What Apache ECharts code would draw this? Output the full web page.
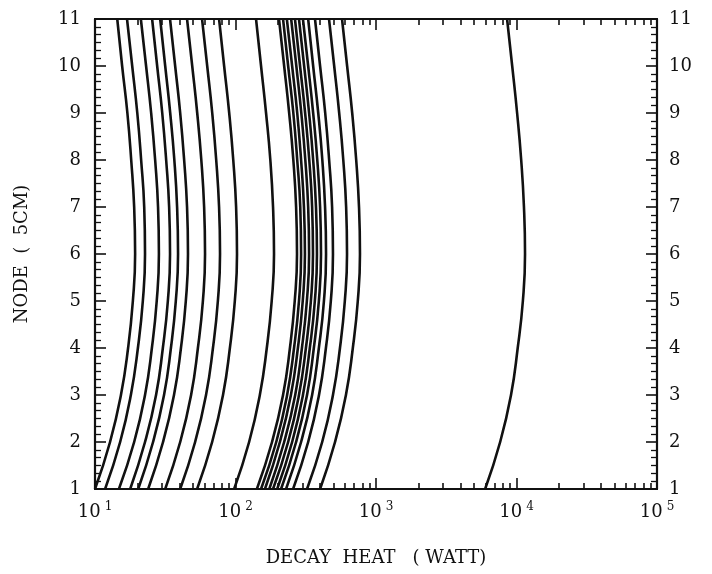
<!DOCTYPE html>
<html><head><meta charset="utf-8">
<script src="https://cdn.jsdelivr.net/npm/echarts@6/dist/echarts.min.js"></script>
<style>html,body{margin:0;background:#fff}#c{width:712px;height:574px}</style>
</head><body><div id="c"></div>
<script>
// node numbers along the column (5 cm each), bottom to top
const nodes = [1, 2, 3, 4, 5, 6, 7, 8, 9, 10, 11];

// decay heat (W) at nodes 1..11, one array per curve
const heat01 = [10.0, 12.8, 15.3, 17.2, 18.6, 19.3, 19.0, 18.1, 17.0, 15.6, 14.4];
const heat02 = [11.8, 15.1, 18.0, 20.2, 21.9, 22.7, 22.4, 21.3, 20.0, 18.4, 16.9];
const heat03 = [14.8, 19.0, 22.7, 25.4, 27.5, 28.5, 28.1, 26.8, 25.1, 23.1, 21.2];
const heat04 = [17.8, 22.7, 27.2, 30.4, 33.0, 34.2, 33.7, 32.1, 30.1, 27.7, 25.5];
const heat05 = [20.3, 25.9, 31.0, 34.7, 37.6, 39.0, 38.4, 36.7, 34.3, 31.6, 29.1];
const heat06 = [23.9, 30.5, 36.5, 40.9, 44.3, 45.9, 45.2, 43.1, 40.4, 37.2, 34.2];
const heat07 = [31.6, 40.4, 48.3, 54.0, 58.6, 60.7, 59.8, 57.1, 53.4, 49.2, 45.2];
const heat08 = [40.4, 51.6, 61.7, 69.1, 74.9, 77.6, 76.4, 72.9, 68.3, 62.9, 57.8];
const heat09 = [53.3, 68.2, 81.5, 91.2, 98.9, 102.5, 101.0, 96.4, 90.2, 83.0, 76.4];
const heat10 = [97.8, 125, 149, 167, 181, 188, 185, 177, 165, 152, 140];
const heat11 = [142, 182, 218, 244, 264, 274, 270, 258, 241, 222, 204];
const heat12 = [152, 195, 233, 261, 283, 293, 289, 275, 258, 237, 218];
const heat13 = [162, 207, 248, 278, 301, 312, 307, 293, 275, 253, 232];
const heat14 = [174, 222, 266, 297, 322, 334, 329, 314, 294, 271, 249];
const heat15 = [185, 237, 283, 317, 344, 356, 351, 335, 313, 288, 265];
const heat16 = [198, 253, 302, 338, 367, 380, 374, 357, 334, 308, 283];
const heat17 = [211, 270, 323, 361, 392, 406, 400, 382, 357, 329, 302];
const heat18 = [229, 293, 351, 392, 426, 441, 434, 415, 388, 357, 329];
const heat19 = [257, 329, 393, 440, 477, 494, 487, 464, 435, 400, 368];
const heat20 = [323, 414, 494, 554, 600, 622, 613, 585, 547, 504, 463];
const heat21 = [400, 511, 611, 684, 742, 769, 757, 723, 677, 623, 573];
const heat22 = [5980, 7650, 9140, 10200, 11100, 11500, 11300, 10800, 10100, 9320, 8570];

const curves = [heat01, heat02, heat03, heat04, heat05, heat06, heat07, heat08, heat09, heat10, heat11,
  heat12, heat13, heat14, heat15, heat16, heat17, heat18, heat19, heat20, heat21, heat22];

// x-axis tick positions: decades (labelled) and 2..9 within each decade
const decadeTicks = [10, 100, 1000, 10000, 100000];
const minorTicks = [20, 30, 40, 50, 60, 70, 80, 90,
  200, 300, 400, 500, 600, 700, 800, 900,
  2000, 3000, 4000, 5000, 6000, 7000, 8000, 9000,
  20000, 30000, 40000, 50000, 60000, 70000, 80000, 90000];

const serif = '"DejaVu Serif", "Liberation Serif", serif';
const supLabel = v => '{b|10}{s|' + Math.round(Math.log10(v)) + '}';
const richSup = {
  b: { fontFamily: serif, fontSize: 18, color: '#111' },
  s: { fontFamily: serif, fontSize: 12, color: '#111', padding: [0, 0, 10, 4] }
};

const series = curves.map(vals => ({
  type: 'line',
  smooth: 0.5,
  symbol: 'none',
  lineStyle: { color: '#111', width: 2.6 },
  data: vals.map((v, j) => [v, nodes[j]])
}));

const logAxis = (pos, showLabel, ticks, len) => ({
  type: 'log', logBase: 10, min: 10, max: 100000, position: pos,
  axisLine: { show: true, lineStyle: { color: '#111', width: 2.2 } },
  axisTick: { show: true, inside: true, length: len, customValues: ticks, lineStyle: { color: '#111', width: 1.6 } },
  axisLabel: showLabel ? { show: true, customValues: decadeTicks, formatter: supLabel, rich: richSup, margin: 12 } : { show: false },
  splitLine: { show: false }
});

const yAx = pos => ({
  type: 'value', min: 1, max: 11, interval: 1, position: pos,
  axisLine: { show: true, onZero: false, lineStyle: { color: '#111', width: 2.2 } },
  axisTick: { show: true, inside: true, length: 11, lineStyle: { color: '#111', width: 1.6 } },
  minorTick: { show: true, splitNumber: 6, length: 6, lineStyle: { color: '#111', width: 1.3 } },
  axisLabel: { show: true, fontFamily: serif, fontSize: 18, color: '#111', margin: pos === 'left' ? 14 : 12 },
  splitLine: { show: false }
});

const chart = echarts.init(document.getElementById('c'), null, { renderer: 'canvas' });
chart.setOption({
  backgroundColor: '#fff',
  animation: false,
  grid: { left: 95, right: 55, top: 19, bottom: 85, containLabel: false },
  xAxis: [
    Object.assign(logAxis('bottom', true, decadeTicks, 11), {
      name: 'DECAY  HEAT   ( WATT)', nameLocation: 'middle', nameGap: 60,
      nameTextStyle: { fontFamily: serif, fontSize: 18, color: '#111' }
    }),
    logAxis('bottom', false, minorTicks, 6),
    logAxis('top', false, decadeTicks, 11),
    logAxis('top', false, minorTicks, 6)
  ],
  yAxis: [
    Object.assign(yAx('left'), {
      name: 'NODE  (  5CM)', nameLocation: 'middle', nameGap: 64,
      nameTextStyle: { fontFamily: serif, fontSize: 18, color: '#111' }
    }),
    yAx('right')
  ],
  series
});
</script>
</body></html>
